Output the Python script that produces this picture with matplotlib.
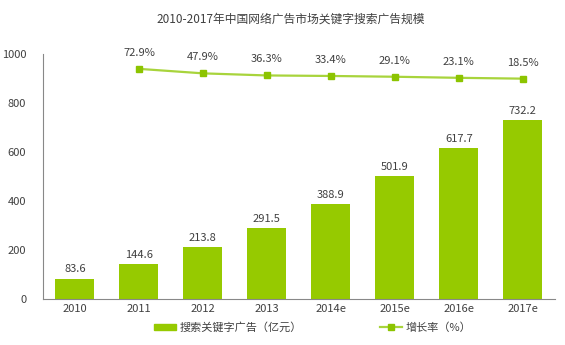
import matplotlib
matplotlib.use("Agg")
import matplotlib.pyplot as plt
from matplotlib.lines import Line2D
from matplotlib.patches import Patch

plt.rcParams['font.family'] = ['Noto Sans CJK SC', 'DejaVu Sans']

years = ['2010', '2011', '2012', '2013', '2014e', '2015e', '2016e', '2017e']
revenue = [83.6, 144.6, 213.8, 291.5, 388.9, 501.9, 617.7, 732.2]
growth_years = ['2011', '2012', '2013', '2014e', '2015e', '2016e', '2017e']
growth = [72.9, 47.9, 36.3, 33.4, 29.1, 23.1, 18.5]
yticks = [0, 200, 400, 600, 800, 1000]

bar_color = '#96CA00'
line_color = '#A8D43C'
marker_color = '#8CC400'
text_color = '#404040'

fig = plt.figure(figsize=(5.65, 3.45), dpi=100)
ax = fig.add_axes([0.076, 0.133, 0.906, 0.71])
x = list(range(len(years)))
ax.bar(x, revenue, width=0.61, color=bar_color, zorder=2)
for xi, v in zip(x, revenue):
    ax.annotate(f'{v}', (xi, v), xytext=(0, 3), textcoords='offset points',
                ha='center', va='bottom', fontsize=8, color=text_color)
ax.set_xlim(-0.5, len(years) - 0.5)
ax.set_ylim(0, 1000)
ax.set_yticks(yticks)
ax.set_xticks(x)
ax.set_xticklabels(years)
ax.tick_params(axis='both', labelsize=8, colors=text_color, length=0)
ax.tick_params(axis='y', pad=12)
for s in ['top', 'right']:
    ax.spines[s].set_visible(False)
ax.spines['left'].set_color('#888888')
ax.spines['bottom'].set_color('#888888')

ax2 = ax.twinx()
gx = [years.index(g) for g in growth_years]
ax2.plot(gx, growth, color=line_color, marker='s', markersize=5, linewidth=1.6,
         markerfacecolor=marker_color, markeredgecolor=marker_color, zorder=3)
for xi, v in zip(gx, growth):
    ax2.annotate(f'{v}%', (xi, v), xytext=(0, 8), textcoords='offset points',
                 ha='center', va='bottom', fontsize=8, color=text_color)
ax2.set_ylim(-1206, 154.5)
ax2.axis('off')

fig.text(0.515, 0.945, '2010-2017年中国网络广告市场关键字搜索广告规模', ha='center',
         va='center', fontsize=8.5, color=text_color)

leg1 = fig.legend([Patch(color=bar_color)], ['搜索关键字广告（亿元）'],
                  loc='center left', bbox_to_anchor=(0.255, 0.05), frameon=False,
                  fontsize=8, handlelength=2.0, handleheight=0.45,
                  handletextpad=0.3, labelcolor=text_color)
leg2 = fig.legend([Line2D([0], [0], color=line_color, marker='s', markersize=4,
                          markerfacecolor=marker_color, markeredgecolor=marker_color,
                          linewidth=1.6)], ['增长率（%）'],
                  loc='center left', bbox_to_anchor=(0.655, 0.05), frameon=False,
                  fontsize=8, handlelength=2.0, handletextpad=0.3,
                  labelcolor=text_color)

fig.savefig('out.png', dpi=100)
